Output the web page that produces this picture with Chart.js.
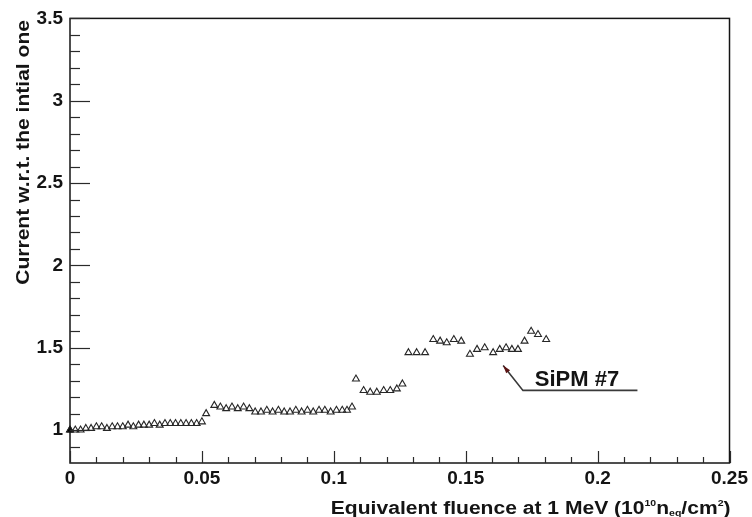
<!DOCTYPE html>
<html>
<head>
<meta charset="utf-8">
<script src="https://cdn.jsdelivr.net/npm/chart.js@4.4.1/dist/chart.umd.min.js"></script>
<style>
  html, body { margin: 0; padding: 0; background: #ffffff; }
  canvas { display: block; }
</style>
</head>
<body>
<canvas id="chart" width="752" height="517"></canvas>
<script>
// Relative dark current of SiPM #7 versus accumulated 1 MeV equivalent fluence
const fluence = [
  0.000, 0.002, 0.004, 0.006, 0.008, 0.010, 0.012, 0.014, 0.016, 0.018, 0.020, 0.022, 0.024,
  0.026, 0.028, 0.030, 0.032, 0.034, 0.036, 0.038, 0.040, 0.042, 0.044, 0.046, 0.048, 0.050,
  0.0516, 0.0547, 0.0570, 0.0592, 0.0614, 0.0636, 0.0658, 0.0680, 0.0702, 0.0724, 0.0746,
  0.0768, 0.0790, 0.0812, 0.0834, 0.0856, 0.0878, 0.0900, 0.0922, 0.0944, 0.0966, 0.0988,
  0.1010, 0.1032, 0.1050, 0.1069,
  0.1084, 0.1113, 0.1138, 0.1163, 0.1189, 0.1214, 0.1239, 0.1260,
  0.1283, 0.1314, 0.1346,
  0.1377, 0.1403, 0.1428, 0.1455, 0.1483,
  0.1516, 0.1543, 0.1572, 0.1604, 0.1629, 0.1653, 0.1675, 0.1698, 0.1723, 0.1748, 0.1774, 0.1805
];
const currentRatio = [
  1.00, 1.00, 1.00, 1.01, 1.01, 1.02, 1.02, 1.01, 1.02, 1.02, 1.02, 1.03, 1.02,
  1.03, 1.03, 1.03, 1.04, 1.03, 1.04, 1.04, 1.04, 1.04, 1.04, 1.04, 1.04, 1.05,
  1.10, 1.15, 1.14, 1.13, 1.14, 1.13, 1.14, 1.13, 1.11, 1.11, 1.12,
  1.11, 1.12, 1.11, 1.11, 1.12, 1.11, 1.12, 1.11, 1.12, 1.12, 1.11,
  1.12, 1.12, 1.12, 1.14,
  1.31, 1.24, 1.23, 1.23, 1.24, 1.24, 1.25, 1.28,
  1.47, 1.47, 1.47,
  1.55, 1.54, 1.53, 1.55, 1.54,
  1.46, 1.49, 1.50, 1.47, 1.49, 1.50, 1.49, 1.49, 1.54, 1.60, 1.58, 1.55
];
// Reference (initial) measurement
const initialFluence = [0];
const initialCurrent = [1];

const xTickValues = [0, 0.05, 0.1, 0.15, 0.2, 0.25];
const yTickValues = [1, 1.5, 2, 2.5, 3, 3.5];
const seriesLabel = 'SiPM #7';

const FONT = '"Liberation Sans", Arial, Helvetica, sans-serif';
const INK = '#141414';
const TITLE_STRETCH = 1.17;   // wide Helvetica-like axis titles

// Label with an arrow pointing at the curve (data coordinates)
const callout = {
  tip:    { x: 0.1642, y: 1.392 },
  elbow:  { x: 0.1717, y: 1.241 },
  end:    { x: 0.2151, y: 1.241 },
  text:   { x: 0.1762, y: 1.265 }
};

function line(ctx, x1, y1, x2, y2) {
  ctx.beginPath(); ctx.moveTo(x1, y1); ctx.lineTo(x2, y2); ctx.stroke();
}

const rootFrame = {
  id: 'rootFrame',
  afterDraw(chart) {
    const { ctx, chartArea: a, scales: { x: xs, y: ys } } = chart;
    ctx.save();

    // frame
    ctx.strokeStyle = INK;
    ctx.lineWidth = 1.5;
    ctx.strokeRect(a.left, a.top, a.right - a.left, a.bottom - a.top);

    // inward ticks (major + minor)
    ctx.lineWidth = 1.2;
    ctx.strokeStyle = '#2a2a2a';
    for (let i = 0; i <= 25; i++) {
      const px = Math.round(xs.getPixelForValue(i / 100)) + 0.5;
      const len = i % 5 === 0 ? 12 : 6;
      line(ctx, px, a.bottom, px, a.bottom - len);
    }
    for (let i = 9; i <= 35; i++) {
      const py = Math.round(ys.getPixelForValue(i / 10)) + 0.5;
      const len = i % 5 === 0 ? 20 : 10;
      line(ctx, a.left, py, a.left + len, py);
    }

    // y axis title
    ctx.fillStyle = INK;
    ctx.font = 'bold 18px ' + FONT;
    ctx.save();
    ctx.translate(29, 20);
    ctx.rotate(-Math.PI / 2);
    ctx.scale(TITLE_STRETCH, 1);
    ctx.textAlign = 'right';
    ctx.textBaseline = 'alphabetic';
    ctx.fillText('Current w.r.t. the intial one', 0, 0);
    ctx.restore();

    // x axis title with super/subscripts
    const parts = [
      { t: 'Equivalent fluence at 1 MeV (10', k: 'n' },
      { t: '10', k: 'sup' },
      { t: 'n', k: 'n' },
      { t: 'eq', k: 'sub' },
      { t: '/cm', k: 'n' },
      { t: '2', k: 'sup' },
      { t: ')', k: 'n' }
    ];
    const fontFor = k => (k === 'n' ? 'bold 18px ' : 'bold 9px ') + FONT;
    let total = 0;
    for (const p of parts) { ctx.font = fontFor(p.k); p.w = ctx.measureText(p.t).width; total += p.w; }
    ctx.save();
    ctx.translate(a.right + 1, 514);
    ctx.scale(TITLE_STRETCH, 1);
    let cx = -total;
    ctx.textAlign = 'left';
    ctx.textBaseline = 'alphabetic';
    for (const p of parts) {
      ctx.font = fontFor(p.k);
      const dy = p.k === 'sup' ? -8 : (p.k === 'sub' ? 2 : 0);
      ctx.fillText(p.t, cx, dy);
      cx += p.w;
    }
    ctx.restore();

    // callout
    const tx = xs.getPixelForValue(callout.tip.x), ty = ys.getPixelForValue(callout.tip.y);
    const ex = xs.getPixelForValue(callout.elbow.x), ey = ys.getPixelForValue(callout.elbow.y);
    const nx = xs.getPixelForValue(callout.end.x), ny = ys.getPixelForValue(callout.end.y);
    ctx.strokeStyle = '#3a3a3a';
    ctx.lineWidth = 1.6;
    ctx.beginPath();
    ctx.moveTo(tx, ty); ctx.lineTo(ex, ey); ctx.lineTo(nx, ny);
    ctx.stroke();
    const ang = Math.atan2(ty - ey, tx - ex);
    ctx.fillStyle = '#5b1414';
    ctx.beginPath();
    ctx.moveTo(tx, ty);
    ctx.lineTo(tx - 8 * Math.cos(ang) + 2.5 * Math.sin(ang), ty - 8 * Math.sin(ang) - 2.5 * Math.cos(ang));
    ctx.lineTo(tx - 8 * Math.cos(ang) - 2.5 * Math.sin(ang), ty - 8 * Math.sin(ang) + 2.5 * Math.cos(ang));
    ctx.closePath();
    ctx.fill();

    ctx.fillStyle = INK;
    ctx.font = 'bold 22px ' + FONT;
    ctx.textAlign = 'left';
    ctx.textBaseline = 'alphabetic';
    ctx.fillText(seriesLabel, xs.getPixelForValue(callout.text.x), ys.getPixelForValue(callout.text.y));

    ctx.restore();
  }
};

const tickFont = { family: FONT, size: 19, weight: 'bold' };

new Chart(document.getElementById('chart'), {
  type: 'scatter',
  data: {
    datasets: [
      {
        label: seriesLabel,
        data: fluence.map((x, i) => ({ x, y: currentRatio[i] })),
        pointStyle: 'triangle',
        pointRadius: 4,
        pointHoverRadius: 4,
        borderWidth: 1.1,
        borderColor: '#262626',
        backgroundColor: 'rgba(255,255,255,0)',
        clip: false
      },
      {
        label: 'initial',
        data: initialFluence.map((x, i) => ({ x, y: initialCurrent[i] })),
        pointStyle: 'triangle',
        pointRadius: 4,
        borderWidth: 1,
        borderColor: '#000',
        backgroundColor: '#000',
        clip: false
      }
    ]
  },
  options: {
    responsive: false,
    animation: false,
    events: [],
    layout: { padding: { top: 13, right: 21, left: 0, bottom: 0 } },
    plugins: { legend: { display: false }, tooltip: { enabled: false } },
    scales: {
      x: {
        type: 'linear',
        min: 0,
        max: 0.25,
        grid: { display: false, drawTicks: false },
        border: { display: false },
        afterBuildTicks: s => { s.ticks = xTickValues.map(v => ({ value: v })); },
        afterFit: s => { s.height = 54; },
        ticks: {
          autoSkip: false,
          maxRotation: 0,
          padding: 4,
          color: INK,
          font: tickFont,
          callback: v => String(v)
        }
      },
      y: {
        type: 'linear',
        min: 0.8,
        max: 3.5,
        grid: { display: false, drawTicks: false },
        border: { display: false },
        afterBuildTicks: s => { s.ticks = yTickValues.map(v => ({ value: v })); },
        afterFit: s => { s.width = 70; },
        ticks: {
          autoSkip: false,
          padding: 7,
          color: INK,
          font: tickFont,
          callback: v => String(v)
        }
      }
    }
  },
  plugins: [rootFrame]
});
</script>
</body>
</html>
